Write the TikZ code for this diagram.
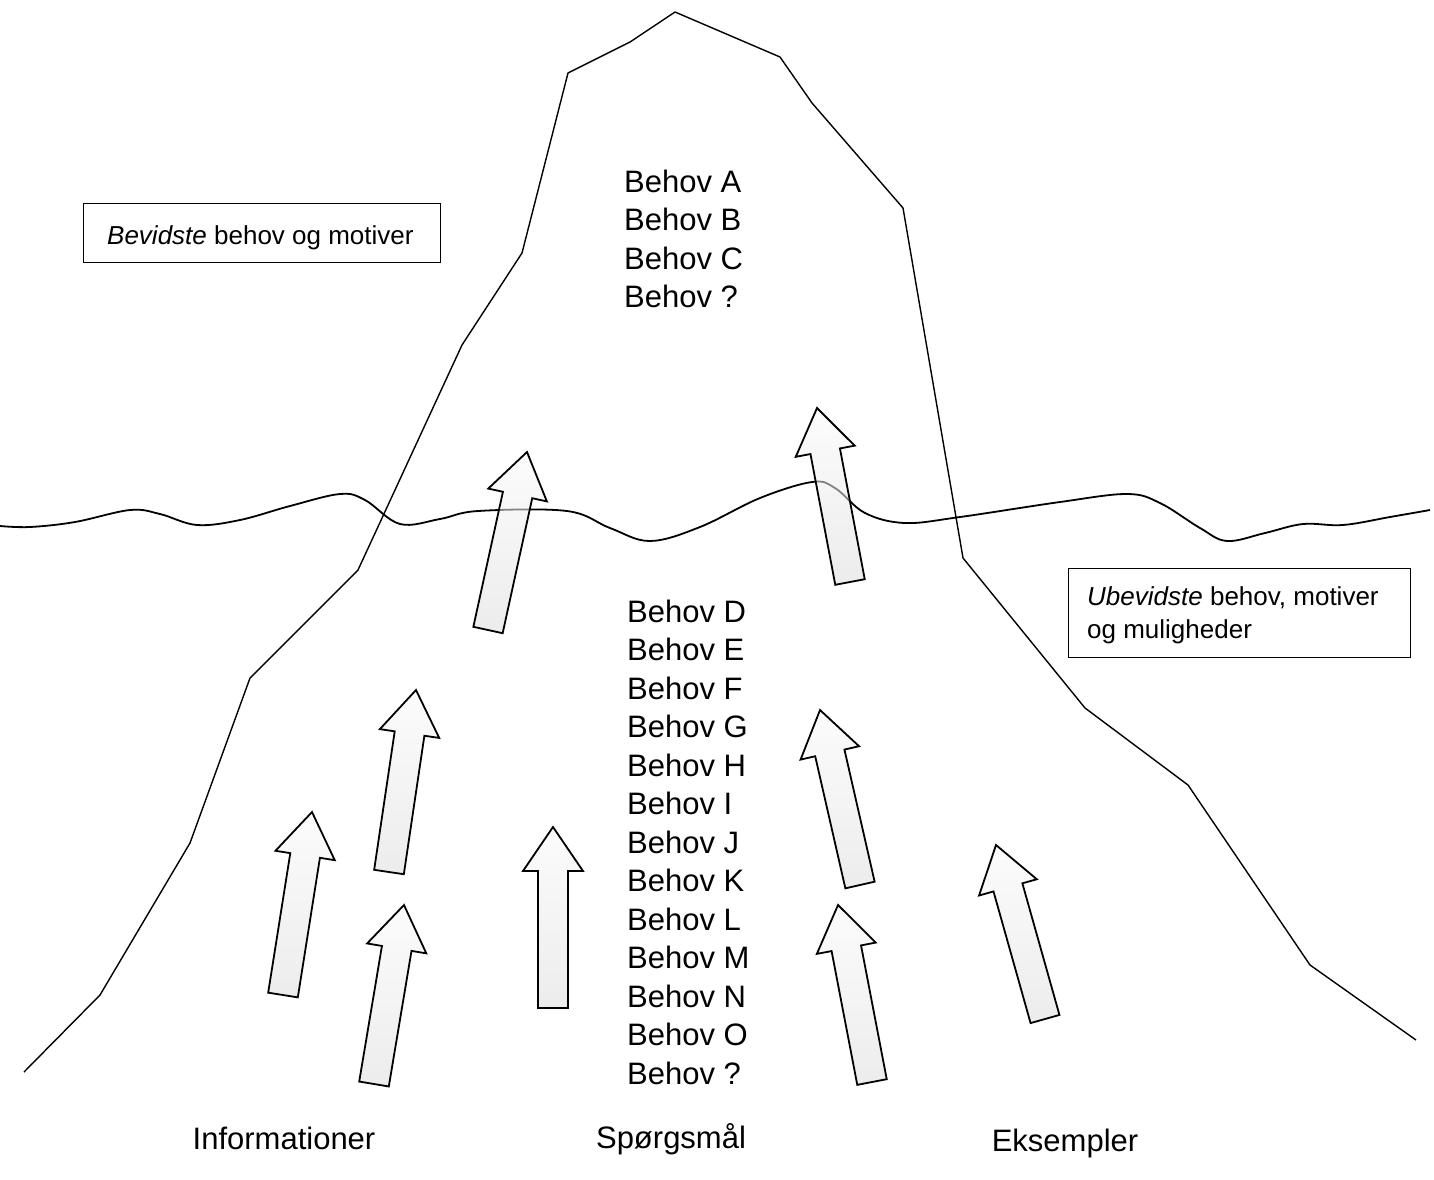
\documentclass[tikz,border=0pt]{standalone}
\usepackage{fontspec}
\setmainfont{Liberation Sans}
\usetikzlibrary{calc}
\tikzset{
  mountain/.style={draw=black, line width=1.4pt, line join=round},
  wave/.style={draw=black, line width=1.8pt},
  blockarr/.style={draw=black, line width=1.8pt, line join=miter, top color=gray!4, bottom color=gray!26, fill opacity=0.55, draw opacity=1},
  behov/.style={font=\fontsize{31}{38.5}\selectfont, align=left, inner sep=0pt, anchor=west},
  infobox/.style={draw=black, line width=1.2pt, inner sep=0pt},
  boxtext/.style={font=\fontsize{26}{33}\selectfont, align=left, inner sep=0pt, anchor=west},
  bottomlabel/.style={font=\fontsize{31}{36}\selectfont, inner sep=0pt, anchor=base}
}
\newcommand{\blockarrow}[2]{%
  \path[blockarr] let \p1=($(#2)-(#1)$), \n1={atan2(\y1,\x1)}, \n2={veclen(\x1,\y1)} in
    [shift={(#1)}, rotate=\n1]
    (0,-15) -- ({\n2-44},-15) -- ({\n2-44},-30) -- ({\n2},0) -- ({\n2-44},30) -- ({\n2-44},15) -- (0,15) -- cycle;
}
\begin{document}
\begin{tikzpicture}[x=1pt,y=1pt]
\useasboundingbox (0,0) rectangle (1434,-1179);
\fill[white] (0,0) rectangle (1434,-1179);
% mountain
\draw[mountain] (24,-1072) -- (100,-995) -- (190,-843) -- (250,-678) -- (358,-570) -- (462,-345) -- (522,-253) -- (568,-73) -- (630,-42) -- (675,-12) -- (780,-57) -- (812,-103) -- (903,-208) -- (963,-558) -- (1085,-708) -- (1188,-785) -- (1310,-965) -- (1416,-1040);
% water line
\draw[wave] plot[smooth, tension=0.6] coordinates {(0,-526) (30,-527) (75,-522) (130,-510) (160,-514) (197,-525) (240,-520) (290,-506) (340,-494) (365,-500) (400,-524) (440,-519) (478,-511) (567,-511) (610,-528) (650,-541) (700,-527) (760,-498) (812,-482) (835,-488) (865,-513) (905,-523) (960,-517) (1060,-502) (1127,-494) (1160,-503) (1200,-528) (1227,-541) (1265,-533) (1303,-524) (1343,-525) (1390,-517) (1430,-510)};
% arrows
\coordinate (t1) at (488,-630);  \coordinate (h1) at (527,-452);
\coordinate (t2) at (850,-582);  \coordinate (h2) at (817,-408);
\coordinate (t3) at (283,-995);  \coordinate (h3) at (312,-812);
\coordinate (t4) at (389,-872);  \coordinate (h4) at (416,-690);
\coordinate (t5) at (374,-1084); \coordinate (h5) at (404,-905);
\coordinate (t6) at (553,-1008); \coordinate (h6) at (553,-827);
\coordinate (t7) at (860,-885);  \coordinate (h7) at (820,-710);
\coordinate (t8) at (872,-1082); \coordinate (h8) at (838,-905);
\coordinate (t9) at (1045,-1019); \coordinate (h9) at (996,-845);
\blockarrow{t1}{h1}
\blockarrow{t2}{h2}
\blockarrow{t3}{h3}
\blockarrow{t4}{h4}
\blockarrow{t5}{h5}
\blockarrow{t6}{h6}
\blockarrow{t7}{h7}
\blockarrow{t8}{h8}
\blockarrow{t9}{h9}
% texts
\node[behov] (top) at (624,-239) {Behov A\\Behov B\\Behov C\\Behov ?};
\node[behov] (low) at (627,-842) {Behov D\\Behov E\\Behov F\\Behov G\\Behov H\\Behov I\\Behov J\\Behov K\\Behov L\\Behov M\\Behov N\\Behov O\\Behov ?};
% boxes
\node[infobox, minimum width=357, minimum height=59, anchor=north west] (box1) at (83,-203) {};
\node[boxtext] (box1t) at ([xshift=24,yshift=-5]box1.west) {\textit{Bevidste} behov og motiver};
\node[infobox, minimum width=342, minimum height=89, anchor=north west] (box2) at (1068,-568) {};
\node[boxtext] (box2t) at ([xshift=19,yshift=-2]box2.west) {\textit{Ubevidste} behov, motiver\\og muligheder};
% bottom labels
\node[bottomlabel] (info) at (284,-1149) {Informationer};
\node[bottomlabel] (spm) at (671,-1148) {Spørgsmål};
\node[bottomlabel] (eks) at (1065,-1151) {Eksempler};
\end{tikzpicture}
\end{document}
